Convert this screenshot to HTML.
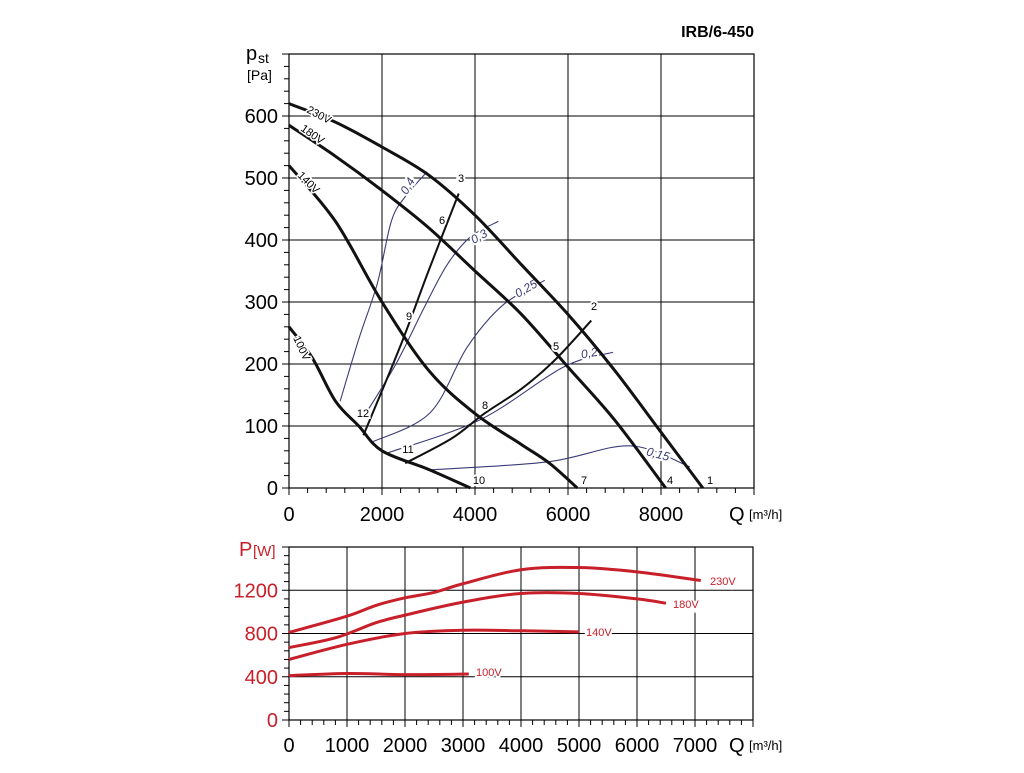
<!DOCTYPE html>
<html><head><meta charset="utf-8"><style>
body{margin:0;background:#fff;width:1024px;height:768px;overflow:hidden}
svg{font-family:"Liberation Sans",sans-serif}
</style></head><body>
<svg id="s" width="1024" height="768" xmlns="http://www.w3.org/2000/svg"></svg>
<script>
const s=document.getElementById('s');let h='';
const X=q=>289+q*93/2000, Y=p=>488-p*0.62;
const X2=q=>289+q*0.058, Y2=p=>720-p*173/1600;
function path(pts,fx,fy){const P=pts.map(a=>[fx(a[0]),fy(a[1])]);let d='M'+P[0][0]+','+P[0][1];
for(let i=0;i<P.length-1;i++){const p0=P[i-1]||P[i],p1=P[i],p2=P[i+1],p3=P[i+2]||p2;
d+=' C'+(p1[0]+(p2[0]-p0[0])/6)+','+(p1[1]+(p2[1]-p0[1])/6)+' '+(p2[0]-(p3[0]-p1[0])/6)+','+(p2[1]-(p3[1]-p1[1])/6)+' '+p2[0]+','+p2[1];}return d;}
// top grid
h+='<rect x="289" y="54" width="465" height="434" fill="none" stroke="#000" stroke-width="1.2"/>';
for(let q=2000;q<10000;q+=2000)h+=`<line x1="${X(q)}" y1="54" x2="${X(q)}" y2="488" stroke="#000"/>`;
for(let p=100;p<700;p+=100)h+=`<line x1="289" y1="${Y(p)}" x2="754" y2="${Y(p)}" stroke="#000"/>`;
for(let p=0;p<=700;p+=20)h+=`<line x1="289" y1="${Y(p)}" x2="${p%100?284:282}" y2="${Y(p)}" stroke="#000"/>`;
for(let q=0;q<=10000;q+=400)h+=`<line x1="${X(q)}" y1="488" x2="${X(q)}" y2="${q%2000?493:495}" stroke="#000"/>`;
for(let p=0;p<=600;p+=100)h+=`<text x="278" y="${Y(p)+7}" font-size="20" text-anchor="end">${p}</text>`;
for(let q=0;q<=8000;q+=2000)h+=`<text x="${X(q)}" y="521" font-size="20" text-anchor="middle">${q}</text>`;
h+='<text x="729" y="521" font-size="20">Q</text><text x="749" y="519" font-size="13">[m³/h]</text>';
h+='<text x="246" y="60" font-size="20">p</text><text x="258" y="63" font-size="14">st</text><text x="247" y="80" font-size="14">[Pa]</text>';
h+='<text x="754" y="37" font-size="16" font-weight="bold" text-anchor="end">IRB/6-450</text>';
const blue='#3b3b78';
const eff=[[[1100,140],[1500,240],[1900,330],[2200,430],[2500,470],[2970,510]],
[[1650,120],[2300,200],[2900,290],[3400,360],[3900,405],[4500,430]],
[[1785,74],[3030,121],[3830,227],[4600,295],[5500,335]],
[[2100,56],[4110,110],[5900,195],[6970,219]],
[[2970,29],[5550,42],[7330,68],[8620,34]]];
eff.forEach(e=>h+=`<path d="${path(e,X,Y)}" fill="none" stroke="${blue}" stroke-width="1.1"/>`);
const el=[[411,188,'0,4',-60],[481,240,'0,3',-30],[528,292,'0,25',-30],[590,357,'0,2',-10],[657,458,'0,15',15]];
el.forEach(a=>h+=`<text x="${a[0]}" y="${a[1]}" font-size="12" fill="${blue}" font-style="italic" text-anchor="middle" transform="rotate(${a[3]} ${a[0]} ${a[1]})" stroke="#fff" stroke-width="4" paint-order="stroke">${a[2]}</text>`);
const cur=[[[0,620],[1000,590],[2000,550],[3000,505],[4000,440],[5000,360],[6000,280],[7000,190],[8000,90],[8900,0]],
[[0,585],[1000,535],[2000,480],[3000,420],[4000,350],[5000,280],[6000,195],[7000,110],[8100,0]],
[[0,520],[1000,430],[2000,300],[3000,190],[4000,120],[5000,70],[5600,40],[6200,0]],
[[0,260],[500,210],[1000,140],[1500,100],[2000,60],[3000,30],[3900,0]]];
cur.forEach(c=>h+=`<path d="${path(c,X,Y)}" fill="none" stroke="#111" stroke-width="3"/>`);
h+=`<path d="${path([[1600,85],[2400,230],[3000,350],[3650,475]],X,Y)}" fill="none" stroke="#111" stroke-width="2"/>`;
h+=`<path d="${path([[2500,40],[3500,80],[4200,120],[5000,160],[5700,205],[6500,270]],X,Y)}" fill="none" stroke="#111" stroke-width="2"/>`;
const vl=[[306,112,'230V',28],[300,130,'180V',35],[297,176,'140V',45],[293,338,'100V',65]];
vl.forEach(a=>h+=`<text x="${a[0]}" y="${a[1]}" font-size="11" transform="rotate(${a[3]} ${a[0]} ${a[1]})" stroke="#fff" stroke-width="3" paint-order="stroke">${a[2]}</text>`);
const nl=[[710,480,'1'],[594,306,'2'],[461,178,'3'],[670,480,'4'],[556,346,'5'],[442,220,'6'],[584,480,'7'],[485,405,'8'],[409,316,'9'],[479,480,'10'],[408,449,'11'],[363,413,'12']];
nl.forEach(a=>h+=`<text x="${a[0]}" y="${a[1]+4}" font-size="11" text-anchor="middle" stroke="#fff" stroke-width="4" paint-order="stroke">${a[2]}</text>`);
// bottom
h+='<rect x="289" y="547" width="464" height="173" fill="none" stroke="#000" stroke-width="1.2"/>';
for(let q=1000;q<8000;q+=1000)h+=`<line x1="${X2(q)}" y1="547" x2="${X2(q)}" y2="720" stroke="#000"/>`;
for(let p=400;p<1600;p+=400)h+=`<line x1="289" y1="${Y2(p)}" x2="753" y2="${Y2(p)}" stroke="#000"/>`;
for(let p=0;p<=1600;p+=80)h+=`<line x1="289" y1="${Y2(p)}" x2="${p%400?284:282}" y2="${Y2(p)}" stroke="#000"/>`;
for(let q=0;q<=8000;q+=200)h+=`<line x1="${X2(q)}" y1="720" x2="${X2(q)}" y2="${q%1000?725:727}" stroke="#000"/>`;
for(let p=0;p<=1200;p+=400)h+=`<text x="278" y="${Y2(p)+7}" font-size="20" fill="#c8202a" text-anchor="end">${p}</text>`;
for(let q=0;q<=7000;q+=1000)h+=`<text x="${X2(q)}" y="752" font-size="20" text-anchor="middle">${q}</text>`;
h+='<text x="729" y="752" font-size="20">Q</text><text x="749" y="750" font-size="13">[m³/h]</text>';
h+='<text x="239" y="556" font-size="20" fill="#c8202a">P</text><text x="253" y="556" font-size="15" fill="#c8202a">[W]</text>';
const red='#c8202a';
const pc=[[[0,810],[1000,960],[1500,1060],[2000,1130],[2500,1180],[3000,1260],[4000,1390],[5000,1410],[6000,1370],[7100,1290]],
[[0,670],[800,760],[1500,900],[2000,970],[3000,1090],[4000,1170],[5000,1170],[6000,1120],[6500,1080]],
[[0,560],[1000,700],[2000,800],[3000,830],[4000,825],[5000,815]],
[[0,410],[1000,430],[2000,420],[3100,425]]];
pc.forEach(c=>h+=`<path d="${path(c,X2,Y2)}" fill="none" stroke="${red}" stroke-width="3"/>`);
[[710,585,'230V'],[673,608,'180V'],[586,636,'140V'],[476,676,'100V']].forEach(a=>h+=`<text x="${a[0]}" y="${a[1]}" font-size="11" fill="${red}" stroke="#fff" stroke-width="4" paint-order="stroke">${a[2]}</text>`);
s.innerHTML=h;
</script>
</body></html>
